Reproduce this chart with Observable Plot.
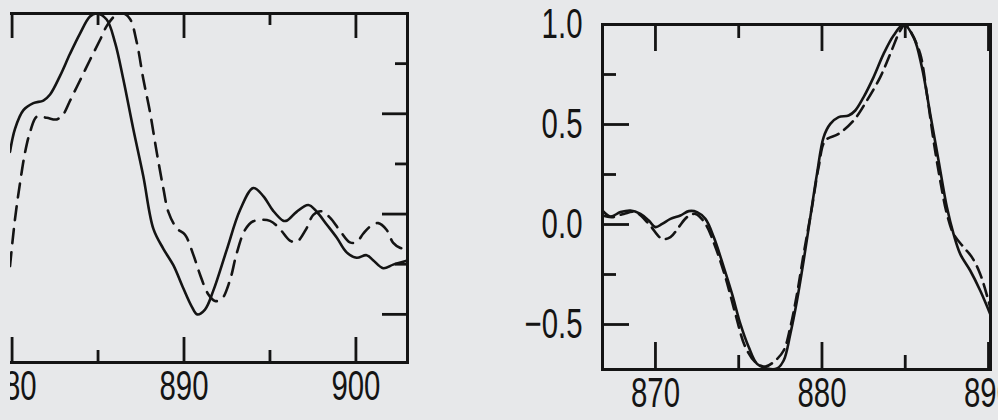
<!DOCTYPE html>
<html><head><meta charset="utf-8">
<script src="https://cdn.jsdelivr.net/npm/d3@7"></script>
<script src="https://cdn.jsdelivr.net/npm/@observablehq/plot@0.6"></script>
<style>
html,body{margin:0;padding:0;background:#e7e8ea;}
#wrap{position:relative;width:998px;height:420px;overflow:hidden;background:#e7e8ea;}
#leftclip{position:absolute;left:10px;top:0;width:500px;height:420px;overflow:hidden;}
#wrap svg{position:absolute;top:0;background:transparent;max-width:none !important;}
</style></head><body><div id="wrap"><div id="leftclip"></div></div>
<script>
// Left panel (wavelength, normalized signal)
const leftSolidX = [879.88, 880.17, 880.66, 881.24, 881.82, 882.21, 882.79, 883.37, 883.95, 884.53, 884.92, 885.5, 885.99, 886.47, 887.05, 887.63, 888.22, 888.8, 889.38, 889.96, 890.45, 890.77, 891.22, 891.7, 892.48, 893.26, 894.03, 894.61, 895.19, 895.77, 896.0, 896.55, 897.23, 897.71, 898.3, 898.88, 899.46, 900.04, 900.62, 901.0, 901.59, 902.17, 902.95];
const leftSolidY = [0.31, 0.425, 0.518, 0.553, 0.566, 0.596, 0.689, 0.799, 0.90, 0.985, 1.0, 0.97, 0.855, 0.672, 0.424, 0.19, -0.074, -0.173, -0.255, -0.37, -0.461, -0.50, -0.476, -0.383, -0.18, 0.02, 0.13, 0.09, 0.016, -0.033, -0.032, 0.011, 0.045, 0.013, -0.052, -0.117, -0.191, -0.218, -0.205, -0.23, -0.27, -0.252, -0.233];
const leftDashX = [879.88, 880.17, 880.47, 880.76, 881.05, 881.44, 882.02, 882.6, 882.98, 883.37, 883.95, 884.53, 885.12, 885.5, 885.99, 886.47, 886.86, 887.25, 887.63, 888.02, 888.41, 888.8, 889.09, 889.58, 890.06, 890.54, 890.93, 891.41, 891.8, 892.19, 892.67, 893.06, 893.55, 894.03, 895.0, 895.58, 896.16, 896.55, 897.13, 897.52, 898.0, 898.49, 899.07, 899.65, 900.04, 900.42, 900.81, 901.3, 901.78, 902.17, 902.56, 902.95];
const leftDashY = [-0.259, -0.025, 0.159, 0.31, 0.41, 0.486, 0.48, 0.472, 0.498, 0.565, 0.666, 0.768, 0.869, 0.937, 0.988, 1.0, 0.973, 0.857, 0.675, 0.509, 0.31, 0.127, 0.011, -0.071, -0.103, -0.202, -0.301, -0.40, -0.433, -0.424, -0.331, -0.197, -0.079, -0.036, -0.034, -0.075, -0.132, -0.139, -0.071, -0.004, 0.014, -0.018, -0.083, -0.141, -0.14, -0.098, -0.063, -0.045, -0.078, -0.144, -0.168, -0.175];
const leftXMajor = [880, 890, 900];
const leftXMinor = [885, 895];
const leftXLabels = ["880", "890", "900"];
const leftYMajor = [-0.5, 0, 0.5];
const leftYMinor = [-0.25, 0.25, 0.75];

// Right panel
const rightSolidX = [866.81, 867.3, 867.9, 868.5, 869.1, 869.6, 870.0, 870.4, 870.9, 871.5, 872.0, 872.5, 873.0, 873.5, 874.1, 874.6, 875.1, 875.6, 876.1, 876.7, 877.3, 877.7, 878.1, 878.5, 878.9, 879.3, 879.7, 880.1, 880.5, 881.0, 881.6, 882.0, 882.5, 883.1, 883.7, 884.3, 884.9, 885.5, 886.0, 886.5, 887.0, 887.5, 887.9, 888.3, 888.9, 889.5, 890.1];
const rightSolidY = [0.07, 0.04, 0.062, 0.07, 0.053, 0.02, -0.013, 0.003, 0.028, 0.045, 0.067, 0.062, 0.028, -0.063, -0.213, -0.347, -0.497, -0.613, -0.697, -0.72, -0.72, -0.68, -0.547, -0.38, -0.18, 0.037, 0.253, 0.437, 0.503, 0.537, 0.545, 0.57, 0.637, 0.737, 0.853, 0.945, 1.0, 0.937, 0.787, 0.553, 0.32, 0.087, -0.047, -0.147, -0.23, -0.33, -0.447];
const rightDashX = [866.8, 867.4, 868.1, 868.8, 869.6, 870.4, 870.9, 871.4, 871.9, 872.4, 873.0, 873.6, 874.2, 874.8, 875.4, 876.0, 876.6, 877.2, 877.7, 878.1, 878.5, 878.9, 879.4, 879.8, 880.2, 881.0, 881.9, 882.7, 883.5, 884.1, 884.7, 885.0, 885.4, 885.9, 886.3, 886.7, 887.1, 887.5, 887.9, 888.5, 889.0, 889.5, 890.1];
const rightDashY = [0.045, 0.037, 0.053, 0.062, 0.003, -0.072, -0.063, -0.013, 0.037, 0.053, 0.003, -0.113, -0.263, -0.447, -0.613, -0.688, -0.71, -0.68, -0.63, -0.513, -0.347, -0.147, 0.087, 0.287, 0.42, 0.453, 0.52, 0.62, 0.737, 0.853, 0.97, 1.0, 0.953, 0.853, 0.653, 0.42, 0.22, 0.053, -0.047, -0.113, -0.163, -0.247, -0.413];
const rightXMajor = [870, 880, 890];
const rightXMinor = [875, 885];
const rightXLabels = ["870", "880", "890"];
const rightYMajor = [-0.5, 0, 0.5];
const rightYMinor = [-0.25, 0.25, 0.75];
const rightYTicks = [1.0, 0.5, 0.0, -0.5];
const rightYLabels = ["1.0", "0.5", "0.0", "\u22120.5"];

const zip = (xs, ys) => xs.map((x, i) => ({x, y: ys[i]}));
const ink = "#141414";
const font = '"Liberation Sans", Arial, sans-serif';
const condense = 0.7;

function panel({xDomain, yDomain, width, height, mt, mb, ml, mr, solid, dash, xMaj, xMin, xLab, yMaj, yMin, yTicks, yLab, fontSize, majLen, minLen, sideTicks, xPad, dashArr}) {
  const W = width - ml - mr, H = height - mt - mb;
  const marks = [
    Plot.line(solid, {x: "x", y: "y", curve: "catmull-rom", stroke: ink, strokeWidth: 2.6, clip: true}),
    Plot.line(dash, {x: "x", y: "y", curve: "catmull-rom", stroke: ink, strokeWidth: 2.6, strokeDasharray: dashArr, clip: true}),
    Plot.ruleX(xMaj, {x: d => d, insetTop: H - majLen, stroke: ink, strokeWidth: 2.8}),
    Plot.ruleX(xMin, {x: d => d, insetTop: H - minLen, stroke: ink, strokeWidth: 2.8}),
    Plot.ruleX(xMaj, {x: d => d, insetBottom: H - majLen, stroke: ink, strokeWidth: 2.8}),
    Plot.ruleX(xMin, {x: d => d, insetBottom: H - minLen, stroke: ink, strokeWidth: 2.8}),
    Plot.frame({stroke: ink, strokeWidth: 3})
  ];
  if (sideTicks === "left") {
    marks.push(Plot.ruleY(yMaj, {y: d => d, insetRight: W - majLen, stroke: ink, strokeWidth: 2.8}));
    marks.push(Plot.ruleY(yMin, {y: d => d, insetRight: W - minLen, stroke: ink, strokeWidth: 2.8}));
  } else {
    marks.push(Plot.ruleY(yMaj, {y: d => d, insetLeft: W - majLen, stroke: ink, strokeWidth: 2.8}));
    marks.push(Plot.ruleY(yMin, {y: d => d, insetLeft: W - minLen, stroke: ink, strokeWidth: 2.8}));
  }
  return Plot.plot({
    width, height, marginTop: mt, marginBottom: mb, marginLeft: ml, marginRight: mr,
    style: {fontFamily: font, fontSize: fontSize + "px", color: ink, background: "transparent"},
    x: {domain: xDomain, ticks: xMaj, tickSize: 0, tickPadding: xPad, tickFormat: d => xLab[xMaj.indexOf(d)], label: null},
    y: yTicks ? {domain: yDomain, ticks: yTicks, tickSize: 0, tickPadding: 20, tickFormat: d => yLab[yTicks.indexOf(d)], label: null}
              : {domain: yDomain, axis: null},
    marks
  });
}

// narrow the tick labels horizontally, around their own anchor
function condenseText(svg) {
  svg.querySelectorAll("text").forEach(t => {
    const bb = t.getBBox();
    const anchor = getComputedStyle(t).textAnchor;
    const ax = anchor === "end" ? bb.x + bb.width : anchor === "start" ? bb.x : bb.x + bb.width / 2;
    const ay = bb.y + bb.height / 2;
    const prev = t.getAttribute("transform");
    t.setAttribute("transform", (prev ? prev + " " : "") + `translate(${ax},${ay}) scale(${condense},1) translate(${-ax},${-ay})`);
  });
}

const wrap = document.getElementById("wrap");

const left = panel({
  xDomain: [877, 903], yDomain: [-0.74, 1.0],
  width: 455, height: 420, mt: 13, mb: 58, ml: 0, mr: 8,
  solid: zip(leftSolidX, leftSolidY), dash: zip(leftDashX, leftDashY),
  xMaj: leftXMajor, xMin: leftXMinor, xLab: leftXLabels,
  yMaj: leftYMajor, yMin: leftYMinor, yTicks: null,
  fontSize: 42, majLen: 25, minLen: 12, sideTicks: "right", xPad: 8, dashArr: "14,9"
});
left.style.left = "-50px"; // inside a clip box that starts at page x = 10
document.getElementById("leftclip").appendChild(left);
condenseText(left);

const right = panel({
  xDomain: [866.82, 890.12], yDomain: [-0.725, 1.0],
  width: 508, height: 420, mt: 24, mb: 51, ml: 90, mr: 30,
  solid: zip(rightSolidX, rightSolidY), dash: zip(rightDashX, rightDashY),
  xMaj: rightXMajor, xMin: rightXMinor, xLab: rightXLabels,
  yMaj: rightYMajor, yMin: rightYMinor, yTicks: rightYTicks, yLab: rightYLabels,
  fontSize: 42, majLen: 27, minLen: 14, sideTicks: "left", xPad: 8, dashArr: "12,7"
});
right.style.left = "512px";
wrap.appendChild(right);
condenseText(right);
</script>
</body></html>
